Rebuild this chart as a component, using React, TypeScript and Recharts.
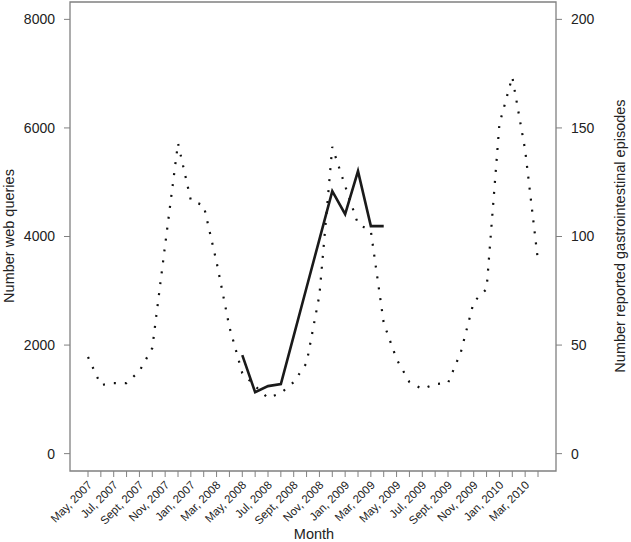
import React from 'react';
import { LineChart, Line, XAxis, YAxis, ReferenceArea, Label } from 'recharts';

// Month index 0 = May 2007 ... 35 = Apr 2010
const monthIndex = Array.from({ length: 36 }, (_, i) => i);

// Web queries (left axis)
const webQueries = [
  1780, 1263, 1300, 1300, 1521, 1945, 3843, 5720, 4664, 4571, 3530, 2332,
  1484, 1244, 1023, 1115, 1318, 1668, 2922, 5650, 4931, 4231, 4101, 2406,
  1742, 1318, 1189, 1281, 1300, 1871, 2793, 3032, 6074, 6940, 5594, 3548,
];

// Reported GI episodes (right axis), May 2008 - Apr 2009
const giEpisodes: (number | null)[] = [
  null, null, null, null, null, null, null, null, null, null, null, null,
  45.4, 28.3, 31.1, 32.0, 54.2, 76.5, 98.7, 120.9, 110.3, 130.1, 104.8, 104.8,
  null, null, null, null, null, null, null, null, null, null, null, null,
];

const tickLabels = [
  'May, 2007', 'Jul, 2007', 'Sept, 2007', 'Nov, 2007', 'Jan, 2007', 'Mar, 2008',
  'May, 2008', 'Jul, 2008', 'Sept, 2008', 'Nov, 2008', 'Jan, 2009', 'Mar, 2009',
  'May, 2009', 'Jul, 2009', 'Sept, 2009', 'Nov, 2009', 'Jan, 2010', 'Mar, 2010',
];

const leftTicks = [0, 2000, 4000, 6000, 8000];
const rightTicks = [0, 50, 100, 150, 200];

const data = monthIndex.map((m, i) => ({ m, web: webQueries[i], gi: giEpisodes[i] }));

const FONT = '"Liberation Sans", Arial, Helvetica, sans-serif';
const TEXT = '#222';
const AXIS = '#808080';

const XTick = (props: any) => {
  const { x, y, payload } = props;
  const v = payload.value as number;
  if (v % 2 !== 0) return null;
  const label = tickLabels[v / 2];
  const ax = x + 2;
  const ay = y + 4;
  return (
    <text
      x={ax}
      y={ay}
      transform={`rotate(-45 ${ax} ${ay})`}
      textAnchor="end"
      dominantBaseline="central"
      fontSize={11.5}
      fontFamily={FONT}
      fill={TEXT}
    >
      {label}
    </text>
  );
};

export default function App() {
  return (
    <div style={{ position: 'absolute', left: 0, top: 0, background: '#fff' }}>
      <LineChart
        width={631}
        height={542}
        data={data}
        margin={{ top: 2, right: 0, bottom: 0, left: 0 }}
      >
        <XAxis
          dataKey="m"
          type="number"
          domain={[-1.4, 36.4]}
          ticks={monthIndex}
          interval={0}
          allowDataOverflow
          height={71}
          axisLine={false}
          tickLine={{ stroke: AXIS }}
          tickSize={6}
          tick={<XTick />}
        >
          <Label
            content={() => (
              <text x={314} y={534} textAnchor="middle" dominantBaseline="central" fontSize={14.5} fontFamily={FONT} fill={TEXT}>
                Month
              </text>
            )}
          />
        </XAxis>
        <YAxis
          yAxisId="l"
          orientation="left"
          width={70}
          domain={[-320, 8320]}
          ticks={leftTicks}
          allowDataOverflow
          axisLine={false}
          tickLine={{ stroke: AXIS }}
          tickSize={6}
          tickMargin={9}
          tick={{ fontSize: 14, fontFamily: FONT, fill: TEXT }}
        >
          <Label
            content={() => (
              <text x={9} y={236} transform="rotate(-90 9 236)" textAnchor="middle" dominantBaseline="central" fontSize={14.5} fontFamily={FONT} fill={TEXT}>
                Number web queries
              </text>
            )}
          />
        </YAxis>
        <YAxis
          yAxisId="r"
          orientation="right"
          width={75}
          domain={[-8, 208]}
          ticks={rightTicks}
          allowDataOverflow
          axisLine={false}
          tickLine={{ stroke: AXIS }}
          tickSize={6}
          tickMargin={9}
          tick={{ fontSize: 14, fontFamily: FONT, fill: TEXT }}
        >
          <Label
            content={() => (
              <text x={620} y={236} transform="rotate(-90 620 236)" textAnchor="middle" dominantBaseline="central" fontSize={14.5} fontFamily={FONT} fill={TEXT}>
                Number reported gastrointestinal episodes
              </text>
            )}
          />
        </YAxis>
        <ReferenceArea
          yAxisId="l"
          x1={-1.4}
          x2={36.4}
          y1={-320}
          y2={8320}
          fill="none"
          fillOpacity={0}
          stroke={AXIS}
          strokeWidth={1.3}
          ifOverflow="visible"
        />
        <Line
          yAxisId="l"
          type="linear"
          dataKey="web"
          stroke="#111"
          strokeWidth={2.2}
          strokeDasharray="2 9"
          dot={false}
          activeDot={false}
          isAnimationActive={false}
        />
        <Line
          yAxisId="r"
          type="linear"
          dataKey="gi"
          stroke="#1a1a1a"
          strokeWidth={2.6}
          dot={false}
          activeDot={false}
          connectNulls={false}
          isAnimationActive={false}
        />
      </LineChart>
    </div>
  );
}
